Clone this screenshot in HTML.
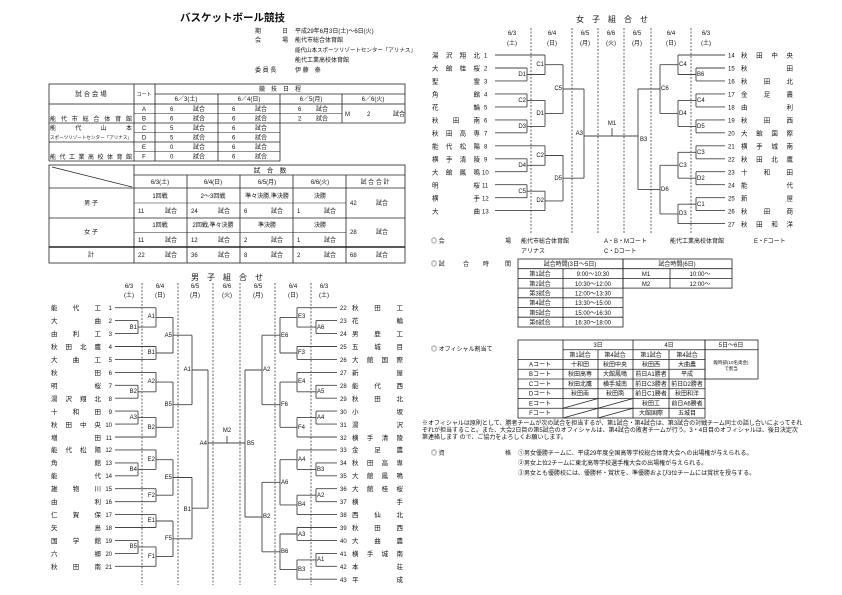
<!DOCTYPE html>
<html><head><meta charset="utf-8"><style>
html,body{margin:0;padding:0;background:#fff;}
svg{display:block;font-family:"Liberation Sans","Noto Sans CJK JP",sans-serif;}
text{fill:#111;}
.s{font-size:6px;}
.n{font-size:6.5px;}
.lb{font-size:6px;}
</style></head><body>
<svg width="842" height="595" viewBox="0 0 842 595" xmlns="http://www.w3.org/2000/svg">
<!-- ===== Header ===== -->
<text x="180" y="21" font-size="10.5" font-weight="bold">バスケットボール競技</text>
<g class="s" font-size="6.3">
<text x="255" y="33">期</text><text x="282" y="33">日</text><text x="295" y="33">平成29年6月3日(土)～6日(火)</text>
<text x="255" y="42">会</text><text x="282" y="42">場</text><text x="295" y="42">能代市総合体育館</text>
<text x="295" y="52" font-size="5.5">能代山本スポーツリゾートセンター「アリナス」</text>
<text x="295" y="62">能代工業高校体育館</text>
<text x="255" y="72">委 員 長</text><text x="295" y="72">伊 藤　泰</text>
</g>

<!-- ===== Table 1 ===== -->
<g stroke="#222" stroke-width="0.8" fill="none">
<rect x="49" y="84" width="356" height="20"/>
<line x1="49" y1="104" x2="49" y2="161"/><line x1="49" y1="161" x2="280" y2="161"/>
<line x1="134" y1="84" x2="134" y2="161"/><line x1="155" y1="84" x2="155" y2="161"/>
<line x1="155" y1="94" x2="405" y2="94"/>
<line x1="218" y1="94" x2="218" y2="161"/><line x1="280" y1="94" x2="280" y2="161"/>
<line x1="342" y1="94" x2="342" y2="123"/><line x1="405" y1="104" x2="405" y2="123"/>
<line x1="280" y1="123" x2="405" y2="123"/>
<line x1="49" y1="123" x2="280" y2="123"/><line x1="49" y1="142" x2="280" y2="142"/>
<line x1="134" y1="113.5" x2="342" y2="113.5" stroke-width="0.5"/>
<line x1="134" y1="132.5" x2="280" y2="132.5" stroke-width="0.5"/>
<line x1="134" y1="151.5" x2="280" y2="151.5" stroke-width="0.5"/>
</g>
<g class="s">
<text x="91" y="96" text-anchor="middle" font-size="6.5">試 合 会 場</text>
<text x="144" y="96" text-anchor="middle" font-size="5">コート</text>
<text x="280" y="91" text-anchor="middle">競　技　日　程</text>
<text x="186" y="101" text-anchor="middle">6／3(土)</text><text x="249" y="101" text-anchor="middle">6／4(日)</text>
<text x="311" y="101" text-anchor="middle">6／5(月)</text><text x="373" y="101" text-anchor="middle">6／6(火)</text>
<text x="50" y="121" textLength="82" lengthAdjust="spacing">能代市総合体育館</text>
<text x="50" y="130" textLength="82" lengthAdjust="spacing">能代山本</text>
<text x="50" y="139" font-size="4.6" textLength="82" lengthAdjust="spacingAndGlyphs">スポーツリゾートセンター「アリナス」</text>
<text x="50" y="159" textLength="82" lengthAdjust="spacing">能代工業高校体育館</text>
<text x="144" y="111" text-anchor="middle">A</text><text x="144" y="120.5" text-anchor="middle">B</text>
<text x="144" y="130" text-anchor="middle">C</text><text x="144" y="139.5" text-anchor="middle">D</text>
<text x="144" y="149" text-anchor="middle">E</text><text x="144" y="158.5" text-anchor="middle">F</text>
<text x="170" y="111">6</text><text x="193" y="111">試合</text><text x="232" y="111">6</text><text x="255" y="111">試合</text><text x="298" y="111">6</text><text x="316" y="111">試合</text>
<text x="170" y="120.5">6</text><text x="193" y="120.5">試合</text><text x="232" y="120.5">6</text><text x="255" y="120.5">試合</text><text x="298" y="120.5">2</text><text x="316" y="120.5">試合</text>
<text x="345" y="116">M</text><text x="367" y="116">2</text><text x="393" y="116">試合</text>
<text x="170" y="130">5</text><text x="193" y="130">試合</text><text x="232" y="130">6</text><text x="255" y="130">試合</text>
<text x="170" y="139.5">5</text><text x="193" y="139.5">試合</text><text x="232" y="139.5">6</text><text x="255" y="139.5">試合</text>
<text x="170" y="149">0</text><text x="193" y="149">試合</text><text x="232" y="149">6</text><text x="255" y="149">試合</text>
<text x="170" y="158.5">0</text><text x="193" y="158.5">試合</text><text x="232" y="158.5">6</text><text x="255" y="158.5">試合</text>
</g>

<!-- ===== Table 2 ===== -->
<g stroke="#222" stroke-width="0.8" fill="none">
<rect x="49" y="165" width="356" height="98"/>
<line x1="134" y1="165" x2="134" y2="263"/>
<line x1="134" y1="175" x2="405" y2="175"/>
<line x1="49" y1="188" x2="405" y2="188"/>
<line x1="49" y1="218" x2="405" y2="218"/>
<line x1="49" y1="247" x2="405" y2="247" stroke-width="1.6"/>
<line x1="187" y1="175" x2="187" y2="263"/><line x1="240" y1="175" x2="240" y2="263"/>
<line x1="293" y1="175" x2="293" y2="263"/><line x1="346" y1="175" x2="346" y2="263"/>
<line x1="134" y1="203" x2="346" y2="203" stroke-width="0.5"/>
<line x1="134" y1="232.5" x2="346" y2="232.5" stroke-width="0.5"/>
<line x1="52" y1="167" x2="132" y2="187"/>
</g>
<g class="s" font-size="5.3">
<text x="270" y="172.5" text-anchor="middle" font-size="6.5">試　合　数</text>
<text x="160" y="184" text-anchor="middle">6/3(土)</text><text x="213" y="184" text-anchor="middle">6/4(日)</text>
<text x="267" y="184" text-anchor="middle">6/5(月)</text><text x="320" y="184" text-anchor="middle">6/6(火)</text>
<text x="375" y="184" text-anchor="middle">試 合 合 計</text>
<text x="91" y="205" text-anchor="middle" font-size="6">男 子</text>
<text x="160" y="198" text-anchor="middle">1回戦</text><text x="213" y="198" text-anchor="middle">2～3回戦</text>
<text x="267" y="198" text-anchor="middle">準々決勝,準決勝</text><text x="320" y="198" text-anchor="middle">決勝</text>
<text x="138" y="213">11</text><text x="165" y="213">試合</text><text x="191" y="213">24</text><text x="218" y="213">試合</text>
<text x="244" y="213">6</text><text x="271" y="213">試合</text><text x="297" y="213">1</text><text x="324" y="213">試合</text>
<text x="350" y="205">42</text><text x="376" y="205">試合</text>
<text x="91" y="234" text-anchor="middle" font-size="6">女 子</text>
<text x="160" y="227" text-anchor="middle">1回戦</text><text x="213" y="227" text-anchor="middle">2回戦,準々決勝</text>
<text x="267" y="227" text-anchor="middle">準決勝</text><text x="320" y="227" text-anchor="middle">決勝</text>
<text x="138" y="242">11</text><text x="165" y="242">試合</text><text x="191" y="242">12</text><text x="218" y="242">試合</text>
<text x="244" y="242">2</text><text x="271" y="242">試合</text><text x="297" y="242">1</text><text x="324" y="242">試合</text>
<text x="350" y="234">28</text><text x="376" y="234">試合</text>
<text x="91" y="257" text-anchor="middle" font-size="6">計</text>
<text x="138" y="257">22</text><text x="165" y="257">試合</text><text x="191" y="257">36</text><text x="218" y="257">試合</text>
<text x="244" y="257">8</text><text x="271" y="257">試合</text><text x="297" y="257">2</text><text x="324" y="257">試合</text>
<text x="350" y="257">68</text><text x="376" y="257">試合</text>
</g>

<!-- ===== Men bracket ===== -->
<text x="227" y="280" text-anchor="middle" font-size="8">男　子　組　合　せ</text>
<g class="s" font-size="5.3" text-anchor="middle">
<text x="129" y="288">6/3</text><text x="129" y="297">(土)</text>
<text x="160" y="288">6/4</text><text x="160" y="297">(日)</text>
<text x="195" y="288">6/5</text><text x="195" y="297">(月)</text>
<text x="227" y="288">6/6</text><text x="227" y="297">(火)</text>
<text x="258" y="288">6/5</text><text x="258" y="297">(月)</text>
<text x="293" y="288">6/4</text><text x="293" y="297">(日)</text>
<text x="324" y="288">6/3</text><text x="324" y="297">(土)</text>
</g>
<g stroke="#222" stroke-width="0.7" stroke-dasharray="2,1.5">
<line x1="142" y1="283" x2="142" y2="585"/><line x1="178" y1="283" x2="178" y2="585"/>
<line x1="213" y1="283" x2="213" y2="585"/><line x1="240" y1="283" x2="240" y2="585"/>
<line x1="275" y1="283" x2="275" y2="585"/><line x1="311" y1="283" x2="311" y2="585"/>
</g>
<g stroke="#444" stroke-width="0.9" fill="none">
<path d="M115 307.7H156 M115 320.6H138 M115 333.6H138 M138 320.6V333.6 M138 327.1H156 M156 307.7V327.1 M156 317.4H173"/>
<path d="M115 346.5H156 M115 359.4H156 M156 346.5V359.4 M156 353H173 M173 317.4V353 M173 335.2H192"/>
<path d="M115 372.4H156 M115 385.3H138 M115 398.2H138 M138 385.3V398.2 M138 391.8H156 M156 372.4V391.8 M156 382.1H173"/>
<path d="M115 411.1H138 M115 424.1H138 M138 411.1V424.1 M138 417.6H156 M115 437H156 M156 417.6V437 M156 427.3H173 M173 382.1V427.3 M173 404.7H192 M192 335.2V404.7 M192 370H208"/>
<path d="M115 449.9H156 M115 462.9H138 M115 475.8H138 M138 462.9V475.8 M138 469.4H156 M156 449.9V469.4 M156 459.7H173"/>
<path d="M115 488.7H156 M115 501.7H156 M156 488.7V501.7 M156 495.2H173 M173 459.7V495.2 M173 477.5H192"/>
<path d="M115 514.6H156 M115 527.5H156 M156 514.6V527.5 M156 521H173"/>
<path d="M115 540.4H138 M115 553.4H138 M138 540.4V553.4 M138 546.9H156 M115 566.3H156 M156 546.9V566.3 M156 556.6H173 M173 521V556.6 M173 538.8H192 M192 477.5V538.8 M192 508.2H208 M208 370V508.2"/>
<path d="M208 443H245 M227 443V436"/>
<path d="M337 307.7H297 M337 320.6H316 M337 333.6H316 M316 320.6V333.6 M316 327.1H297 M297 307.7V327.1 M297 317.4H280"/>
<path d="M337 346.5H297 M337 359.4H297 M297 346.5V359.4 M297 353H280 M280 317.4V353 M280 335.2H262"/>
<path d="M337 372.4H297 M337 385.3H316 M337 398.2H316 M316 385.3V398.2 M316 391.8H297 M297 372.4V391.8 M297 382.1H280"/>
<path d="M337 411.1H316 M337 424.1H316 M316 411.1V424.1 M316 417.6H297 M337 437H297 M297 417.6V437 M297 427.3H280 M280 382.1V427.3 M280 404.7H262 M262 335.2V404.7 M262 370H245"/>
<path d="M337 449.9H297 M337 462.9H316 M337 475.8H316 M316 462.9V475.8 M316 469.4H297 M297 449.9V469.4 M297 459.7H280"/>
<path d="M337 488.7H316 M337 501.7H316 M316 488.7V501.7 M316 495.2H297 M337 514.6H297 M297 495.2V514.6 M297 504.9H280 M280 459.7V504.9 M280 482.3H262"/>
<path d="M337 527.5H297 M337 540.4H297 M297 527.5V540.4 M297 534H280"/>
<path d="M337 553.4H316 M337 566.3H316 M316 553.4V566.3 M316 559.9H297 M337 579.2H297 M297 559.9V579.2 M297 569.6H280 M280 534V569.6 M280 551.8H262 M262 482.3V551.8 M262 517H245 M245 370V517"/>
</g>
<g class="lb" text-anchor="end">
<text x="155" y="318">A1</text><text x="137" y="329">B1</text><text x="155" y="354">B1</text><text x="172" y="337">A5</text>
<text x="155" y="383">A2</text><text x="137" y="393">B2</text><text x="137" y="419">A3</text><text x="155" y="429">B2</text>
<text x="172" y="406">B5</text><text x="191" y="371">A1</text>
<text x="155" y="461">E2</text><text x="137" y="471">B4</text><text x="155" y="497">F2</text><text x="172" y="479">E5</text>
<text x="155" y="522">E1</text><text x="137" y="548">B5</text><text x="155" y="558">F1</text><text x="172" y="540">F5</text>
<text x="191" y="511">B1</text><text x="207" y="445">A4</text>
</g>
<text x="227" y="432" class="lb" text-anchor="middle">M2</text>
<g class="lb">
<text x="298" y="318">E3</text><text x="317" y="329">A6</text><text x="298" y="354">F3</text><text x="281" y="337">E6</text>
<text x="298" y="383">E4</text><text x="317" y="393">A5</text><text x="317" y="419">A4</text><text x="298" y="429">F4</text>
<text x="281" y="406">F6</text><text x="263" y="371">A2</text>
<text x="298" y="461">A4</text><text x="317" y="471">B3</text><text x="317" y="497">A2</text><text x="298" y="506">B4</text><text x="281" y="484">A6</text>
<text x="298" y="536">A3</text><text x="317" y="561">A1</text><text x="298" y="571">B3</text><text x="281" y="553">B6</text>
<text x="263" y="518">B2</text><text x="247" y="445">B5</text>
</g>
<g class="n">
<text x="51" y="310" textLength="50" lengthAdjust="spacing">能代工</text>
<text x="51" y="323" textLength="50" lengthAdjust="spacing">大曲</text>
<text x="51" y="336" textLength="50" lengthAdjust="spacing">由利工</text>
<text x="51" y="349" textLength="50" lengthAdjust="spacing">秋田北鷹</text>
<text x="51" y="362" textLength="50" lengthAdjust="spacing">大曲工</text>
<text x="51" y="375" textLength="50" lengthAdjust="spacing">秋田</text>
<text x="51" y="388" textLength="50" lengthAdjust="spacing">明桜</text>
<text x="51" y="401" textLength="50" lengthAdjust="spacing">湯沢翔北</text>
<text x="51" y="414" textLength="50" lengthAdjust="spacing">十和田</text>
<text x="51" y="427" textLength="50" lengthAdjust="spacing">秋田中央</text>
<text x="51" y="440" textLength="50" lengthAdjust="spacing">増田</text>
<text x="51" y="452" textLength="50" lengthAdjust="spacing">能代松陽</text>
<text x="51" y="465" textLength="50" lengthAdjust="spacing">角館</text>
<text x="51" y="478" textLength="50" lengthAdjust="spacing">能代</text>
<text x="51" y="491" textLength="50" lengthAdjust="spacing">雄物川</text>
<text x="51" y="504" textLength="50" lengthAdjust="spacing">由利</text>
<text x="51" y="517" textLength="50" lengthAdjust="spacing">仁賀保</text>
<text x="51" y="530" textLength="50" lengthAdjust="spacing">矢島</text>
<text x="51" y="543" textLength="50" lengthAdjust="spacing">国学館</text>
<text x="51" y="556" textLength="50" lengthAdjust="spacing">六郷</text>
<text x="51" y="569" textLength="50" lengthAdjust="spacing">秋田南</text>
</g>
<g class="s" font-size="5.8" text-anchor="end">
<text x="112" y="310">1</text><text x="112" y="323">2</text><text x="112" y="336">3</text><text x="112" y="349">4</text><text x="112" y="362">5</text><text x="112" y="375">6</text><text x="112" y="388">7</text><text x="112" y="401">8</text><text x="112" y="414">9</text><text x="112" y="427">10</text><text x="112" y="440">11</text><text x="112" y="452">12</text><text x="112" y="465">13</text><text x="112" y="478">14</text><text x="112" y="491">15</text><text x="112" y="504">16</text><text x="112" y="517">17</text><text x="112" y="530">18</text><text x="112" y="543">19</text><text x="112" y="556">20</text><text x="112" y="569">21</text>
</g>
<g class="s" font-size="5.8">
<text x="340" y="310">22</text><text x="340" y="323">23</text><text x="340" y="336">24</text><text x="340" y="349">25</text><text x="340" y="362">26</text><text x="340" y="375">27</text><text x="340" y="388">28</text><text x="340" y="401">29</text><text x="340" y="414">30</text><text x="340" y="427">31</text><text x="340" y="440">32</text><text x="340" y="452">33</text><text x="340" y="465">34</text><text x="340" y="478">35</text><text x="340" y="491">36</text><text x="340" y="504">37</text><text x="340" y="517">38</text><text x="340" y="530">39</text><text x="340" y="543">40</text><text x="340" y="556">41</text><text x="340" y="569">42</text><text x="340" y="582">43</text>
</g>
<g class="n">
<text x="352" y="310" textLength="51" lengthAdjust="spacing">秋田工</text>
<text x="352" y="323" textLength="51" lengthAdjust="spacing">花輪</text>
<text x="352" y="336" textLength="51" lengthAdjust="spacing">男鹿工</text>
<text x="352" y="349" textLength="51" lengthAdjust="spacing">五城目</text>
<text x="352" y="362" textLength="51" lengthAdjust="spacing">大館国際</text>
<text x="352" y="375" textLength="51" lengthAdjust="spacing">新屋</text>
<text x="352" y="388" textLength="51" lengthAdjust="spacing">能代西</text>
<text x="352" y="401" textLength="51" lengthAdjust="spacing">秋田北</text>
<text x="352" y="414" textLength="51" lengthAdjust="spacing">小坂</text>
<text x="352" y="427" textLength="51" lengthAdjust="spacing">湯沢</text>
<text x="352" y="440" textLength="51" lengthAdjust="spacing">横手清陵</text>
<text x="352" y="452" textLength="51" lengthAdjust="spacing">金足農</text>
<text x="352" y="465" textLength="51" lengthAdjust="spacing">秋田高専</text>
<text x="352" y="478" textLength="51" lengthAdjust="spacing">大館鳳鳴</text>
<text x="352" y="491" textLength="51" lengthAdjust="spacing">大館桂桜</text>
<text x="352" y="504" textLength="51" lengthAdjust="spacing">横手</text>
<text x="352" y="517" textLength="51" lengthAdjust="spacing">西仙北</text>
<text x="352" y="530" textLength="51" lengthAdjust="spacing">秋田西</text>
<text x="352" y="543" textLength="51" lengthAdjust="spacing">大曲農</text>
<text x="352" y="556" textLength="51" lengthAdjust="spacing">横手城南</text>
<text x="352" y="569" textLength="51" lengthAdjust="spacing">本荘</text>
<text x="352" y="582" textLength="51" lengthAdjust="spacing">平成</text>
</g>

<!-- ===== Women bracket ===== -->
<text x="612" y="22" text-anchor="middle" font-size="8">女　子　組　合　せ</text>
<g class="s" font-size="5.3" text-anchor="middle">
<text x="512" y="35">6/3</text><text x="512" y="45">(土)</text>
<text x="552" y="35">6/4</text><text x="552" y="45">(日)</text>
<text x="585" y="35">6/5</text><text x="585" y="45">(月)</text>
<text x="611" y="35">6/6</text><text x="611" y="45">(火)</text>
<text x="637" y="35">6/5</text><text x="637" y="45">(月)</text>
<text x="671" y="35">6/4</text><text x="671" y="45">(日)</text>
<text x="706" y="35">6/3</text><text x="706" y="45">(土)</text>
</g>
<g stroke="#222" stroke-width="0.7" stroke-dasharray="2,1.5">
<line x1="531" y1="28" x2="531" y2="233"/><line x1="572" y1="28" x2="572" y2="233"/>
<line x1="598" y1="28" x2="598" y2="233"/><line x1="624" y1="28" x2="624" y2="233"/>
<line x1="651" y1="28" x2="651" y2="233"/><line x1="691" y1="28" x2="691" y2="233"/>
</g>
<g stroke="#444" stroke-width="0.9" fill="none">
<path d="M495 55H545 M495 68H527 M495 80.9H527 M527 68V80.9 M527 74.5H545 M545 55V74.5 M545 64.7H563"/>
<path d="M495 93.9H527 M495 106.9H527 M527 93.9V106.9 M527 100.4H545 M495 119.9H527 M495 132.8H527 M527 119.9V132.8 M527 126.4H545 M545 100.4V126.4 M545 113.4H563 M563 64.7V113.4 M563 89H584"/>
<path d="M495 145.8H545 M495 158.8H527 M495 171.7H527 M527 158.8V171.7 M527 165.3H545 M545 145.8V165.3 M545 155.5H563"/>
<path d="M495 184.7H527 M495 197.7H527 M527 184.7V197.7 M527 191.2H545 M495 210.6H545 M545 191.2V210.6 M545 200.9H563 M563 155.5V200.9 M563 178.2H584 M584 89V178.2"/>
<path d="M584 136H638 M612 136V128"/>
<path d="M725 55H678 M725 68H696 M725 80.9H696 M696 68V80.9 M696 74.5H678 M678 55V74.5 M678 64.7H660"/>
<path d="M725 93.9H696 M725 106.9H696 M696 93.9V106.9 M696 100.4H678 M725 119.9H696 M725 132.8H696 M696 119.9V132.8 M696 126.4H678 M678 100.4V126.4 M678 113.4H660 M660 64.7V113.4 M660 89H638"/>
<path d="M725 145.8H696 M725 158.8H696 M696 145.8V158.8 M696 152.3H678 M725 171.7H696 M725 184.7H696 M696 171.7V184.7 M696 178.2H678 M678 152.3V178.2 M678 165.3H660"/>
<path d="M725 197.7H696 M725 210.6H696 M696 197.7V210.6 M696 204.2H678 M725 223.6H678 M678 204.2V223.6 M678 213.9H660 M660 165.3V213.9 M660 189.6H638 M638 89V189.6"/>
</g>
<g class="lb" text-anchor="end">
<text x="544" y="66">C1</text><text x="526" y="76">D1</text><text x="526" y="102">C2</text><text x="526" y="128">D3</text>
<text x="544" y="115">D1</text><text x="562" y="90">C5</text>
<text x="544" y="157">C2</text><text x="526" y="167">D4</text><text x="526" y="193">C5</text><text x="544" y="202">D2</text>
<text x="562" y="180">D5</text><text x="583" y="135">A3</text>
</g>
<text x="612" y="125" class="lb" text-anchor="middle">M1</text>
<g class="lb">
<text x="679" y="66">C4</text><text x="697" y="76">B6</text><text x="697" y="102">C4</text><text x="697" y="128">D5</text>
<text x="679" y="115">D4</text><text x="661" y="90">C6</text>
<text x="697" y="154">C3</text><text x="697" y="180">D2</text><text x="679" y="167">C3</text>
<text x="697" y="206">C1</text><text x="679" y="215">D3</text><text x="661" y="191">D6</text>
<text x="640" y="141">B3</text>
</g>
<g class="n">
<text x="432" y="57.5" textLength="48" lengthAdjust="spacing">湯沢翔北</text>
<text x="432" y="70.5" textLength="48" lengthAdjust="spacing">大館桂桜</text>
<text x="432" y="83.5" textLength="48" lengthAdjust="spacing">聖霊</text>
<text x="432" y="96.5" textLength="48" lengthAdjust="spacing">角館</text>
<text x="432" y="109.5" textLength="48" lengthAdjust="spacing">花輪</text>
<text x="432" y="122.5" textLength="48" lengthAdjust="spacing">秋田南</text>
<text x="432" y="135.5" textLength="48" lengthAdjust="spacing">秋田高専</text>
<text x="432" y="148.5" textLength="48" lengthAdjust="spacing">能代松陽</text>
<text x="432" y="161.5" textLength="48" lengthAdjust="spacing">横手清陵</text>
<text x="432" y="174.5" textLength="48" lengthAdjust="spacing">大館鳳鳴</text>
<text x="432" y="187.5" textLength="48" lengthAdjust="spacing">明桜</text>
<text x="432" y="200.5" textLength="48" lengthAdjust="spacing">横手</text>
<text x="432" y="213.5" textLength="48" lengthAdjust="spacing">大曲</text>
</g>
<g class="s" font-size="5.8">
<text x="484" y="57.5">1</text><text x="484" y="70.5">2</text><text x="484" y="83.5">3</text><text x="484" y="96.5">4</text><text x="484" y="109.5">5</text><text x="484" y="122.5">6</text><text x="484" y="135.5">7</text><text x="484" y="148.5">8</text><text x="484" y="161.5">9</text><text x="482" y="174.5">10</text><text x="482" y="187.5">11</text><text x="482" y="200.5">12</text><text x="482" y="213.5">13</text>
<text x="728" y="57.5">14</text><text x="728" y="70.5">15</text><text x="728" y="83.5">16</text><text x="728" y="96.5">17</text><text x="728" y="109.5">18</text><text x="728" y="122.5">19</text><text x="728" y="135.5">20</text><text x="728" y="148.5">21</text><text x="728" y="161.5">22</text><text x="728" y="174.5">23</text><text x="728" y="187.5">24</text><text x="728" y="200.5">25</text><text x="728" y="213.5">26</text><text x="728" y="226.5">27</text>
</g>
<g class="n">
<text x="741" y="57.5" textLength="52" lengthAdjust="spacing">秋田中央</text>
<text x="741" y="70.5" textLength="52" lengthAdjust="spacing">秋田</text>
<text x="741" y="83.5" textLength="52" lengthAdjust="spacing">秋田北</text>
<text x="741" y="96.5" textLength="52" lengthAdjust="spacing">金足農</text>
<text x="741" y="109.5" textLength="52" lengthAdjust="spacing">由利</text>
<text x="741" y="122.5" textLength="52" lengthAdjust="spacing">秋田西</text>
<text x="741" y="135.5" textLength="52" lengthAdjust="spacing">大館国際</text>
<text x="741" y="148.5" textLength="52" lengthAdjust="spacing">横手城南</text>
<text x="741" y="161.5" textLength="52" lengthAdjust="spacing">秋田北鷹</text>
<text x="741" y="174.5" textLength="52" lengthAdjust="spacing">十和田</text>
<text x="741" y="187.5" textLength="52" lengthAdjust="spacing">能代</text>
<text x="741" y="200.5" textLength="52" lengthAdjust="spacing">新屋</text>
<text x="741" y="213.5" textLength="52" lengthAdjust="spacing">秋田商</text>
<text x="741" y="226.5" textLength="52" lengthAdjust="spacing">秋田和洋</text>
</g>

<!-- ===== Info section ===== -->
<g class="s" font-size="6">
<text x="431" y="243">◎ 会</text><text x="505" y="243">場</text><text x="521" y="243">能代市総合体育館</text>
<text x="604" y="243">A・B・Mコート</text><text x="670" y="243">能代工業高校体育館</text><text x="754" y="243">E・Fコート</text>
<text x="521" y="253">アリナス</text><text x="604" y="253">C・Dコート</text>
<text x="431" y="266">◎ 試</text><text x="463" y="266">合</text><text x="483" y="266">時</text><text x="505" y="266">間</text>
<text x="431" y="351">◎ オフィシャル割当て</text>
</g>
<g stroke="#222" stroke-width="0.8" fill="none">
<rect x="518" y="259" width="105" height="68"/>
<rect x="623" y="259" width="109" height="29.1"/>
<line x1="518" y1="268.7" x2="732" y2="268.7"/><line x1="518" y1="278.4" x2="732" y2="278.4"/>
<line x1="518" y1="288.1" x2="623" y2="288.1"/><line x1="518" y1="297.8" x2="623" y2="297.8"/>
<line x1="518" y1="307.5" x2="623" y2="307.5"/><line x1="518" y1="317.2" x2="623" y2="317.2"/>
<line x1="563" y1="268.7" x2="563" y2="327"/><line x1="670" y1="268.7" x2="670" y2="288.1"/>
</g>
<g class="s" font-size="6.3">
<text x="570" y="266" text-anchor="middle">試合時間(3日～5日)</text><text x="677" y="266" text-anchor="middle">試合時間(6日)</text>
<text x="540" y="276" text-anchor="middle">第1試合</text><text x="593" y="276" text-anchor="middle">9:00～10:30</text><text x="646" y="276" text-anchor="middle">M1</text><text x="700" y="276" text-anchor="middle">10:00～</text>
<text x="540" y="286" text-anchor="middle">第2試合</text><text x="593" y="286" text-anchor="middle">10:30～12:00</text><text x="646" y="286" text-anchor="middle">M2</text><text x="700" y="286" text-anchor="middle">12:00～</text>
<text x="540" y="295.5" text-anchor="middle">第3試合</text><text x="593" y="295.5" text-anchor="middle">12:00～13:30</text>
<text x="540" y="305" text-anchor="middle">第4試合</text><text x="593" y="305" text-anchor="middle">13:30～15:00</text>
<text x="540" y="315" text-anchor="middle">第5試合</text><text x="593" y="315" text-anchor="middle">15:00～16:30</text>
<text x="540" y="324.5" text-anchor="middle">第6試合</text><text x="593" y="324.5" text-anchor="middle">16:30～18:00</text>
</g>
<g stroke="#222" stroke-width="0.8" fill="none">
<rect x="518" y="340" width="187" height="78"/>
<rect x="705" y="340" width="53" height="39"/>
<line x1="705" y1="349.75" x2="758" y2="349.75"/>
<line x1="563" y1="349.75" x2="705" y2="349.75"/>
<line x1="518" y1="359.5" x2="705" y2="359.5"/><line x1="518" y1="369.25" x2="705" y2="369.25"/>
<line x1="518" y1="379" x2="705" y2="379"/><line x1="518" y1="388.75" x2="705" y2="388.75"/>
<line x1="518" y1="398.5" x2="705" y2="398.5"/><line x1="518" y1="408.25" x2="705" y2="408.25"/>
<line x1="563" y1="340" x2="563" y2="418"/><line x1="598" y1="349.75" x2="598" y2="418"/>
<line x1="633" y1="340" x2="633" y2="418"/><line x1="669" y1="349.75" x2="669" y2="418"/>
<line x1="563" y1="408.25" x2="598" y2="398.5"/><line x1="598" y1="408.25" x2="633" y2="398.5"/>
<line x1="563" y1="418" x2="598" y2="408.25"/><line x1="598" y1="418" x2="633" y2="408.25"/>
</g>
<g class="s" font-size="5.3" text-anchor="middle">
<text x="598" y="347">3日</text><text x="669" y="347">4日</text><text x="731" y="347">5日～6日</text>
<text x="580" y="357">第1試合</text><text x="615" y="357">第4試合</text><text x="651" y="357">第1試合</text><text x="687" y="357">第4試合</text>
<text x="540" y="366.5">Aコート</text><text x="580" y="366.5">十和田</text><text x="615" y="366.5">秋田中央</text><text x="651" y="366.5">秋田西</text><text x="687" y="366.5">大曲農</text>
<text x="540" y="376">Bコート</text><text x="580" y="376">秋田高専</text><text x="615" y="376">大館鳳鳴</text><text x="651" y="376">前日A1勝者</text><text x="687" y="376">平成</text>
<text x="540" y="386">Cコート</text><text x="580" y="386">秋田北鷹</text><text x="615" y="386">横手城南</text><text x="651" y="386">前日C3勝者</text><text x="687" y="386">前日D2勝者</text>
<text x="540" y="395.5">Dコート</text><text x="580" y="395.5">秋田南</text><text x="615" y="395.5">秋田商</text><text x="651" y="395.5">前日C1勝者</text><text x="687" y="395.5">秋田和洋</text>
<text x="540" y="405.5">Eコート</text><text x="651" y="405.5">秋田工</text><text x="687" y="405.5">前日A6勝者</text>
<text x="540" y="415">Fコート</text><text x="651" y="415">大館国際</text><text x="687" y="415">五城目</text>
<text x="731" y="364" font-size="4.5" fill="#777">臨時部(10名奥会)</text><text x="731" y="370" font-size="4.5" fill="#777">で割当</text>
</g>
<g class="s" font-size="5">
<text x="422" y="425">※オフィシャルは原則として、勝者チームが次の試合を担当するが、第1試合・第4試合は、第3試合の対戦チーム同士の話し合いによってそれ</text>
<text x="422" y="432">ぞれが担当すること。また、大会2日目の第5試合のオフィシャルは、第4試合の敗者チームが行う。3・4日目のオフィシャルは、後日決定次</text>
<text x="422" y="439">第連絡します ので、ご協力をよろしくお願いします。</text>
</g>
<g class="s" font-size="5.6">
<text x="431" y="455">◎ 資</text><text x="505" y="455">格</text>
<text x="518" y="455">①男女優勝チームに、平成29年度全国高等学校総合体育大会への出場権が与えられる。</text>
<text x="518" y="465">②男女上位2チームに東北高等学校選手権大会の出場権が与えられる。</text>
<text x="518" y="475">③男女とも優勝校には、優勝杯・賞状を、準優勝および3位チームには賞状を授与する。</text>
</g>
</svg>
</body></html>
